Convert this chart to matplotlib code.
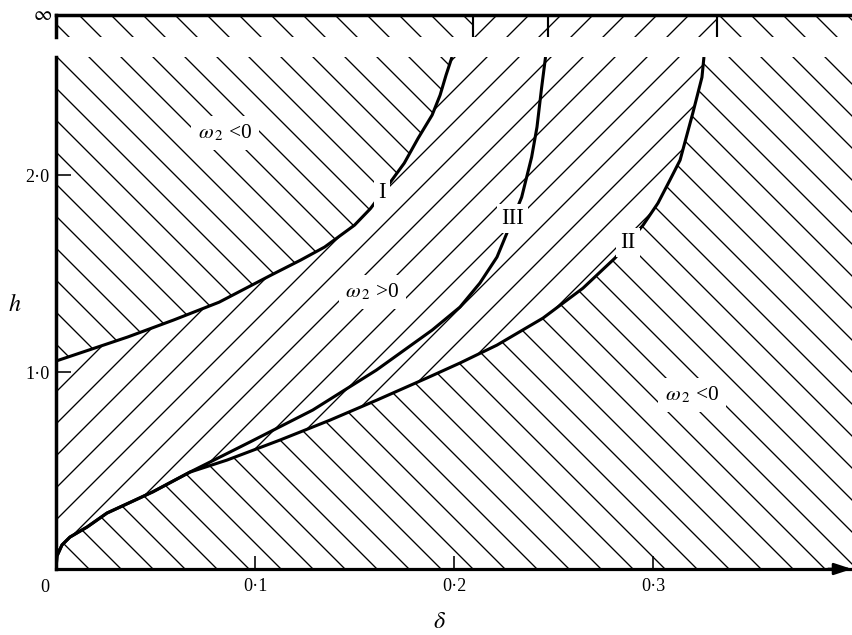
import matplotlib
matplotlib.use("Agg")
import matplotlib.pyplot as plt

# ======================================
# DATA
# ======================================

# shared lower branch of curves II and III
delta_low = [0, 0.0005, 0.003, 0.007, 0.0156, 0.0256, 0.0387, 0.0487, 0.0673]
h_low = [0, 0.066, 0.122, 0.162, 0.213, 0.284, 0.345, 0.392, 0.492]

delta_I = [0, 0.036, 0.059, 0.082, 0.108, 0.123, 0.135, 0.150, 0.158,
           0.168, 0.175, 0.182, 0.189, 0.193, 0.196, 0.199]
h_I = [1.056, 1.178, 1.264, 1.355, 1.492, 1.569, 1.635, 1.746, 1.830,
       1.964, 2.061, 2.188, 2.305, 2.406, 2.508, 2.60]

delta_III = delta_low + [0.0975, 0.129, 0.161, 0.189, 0.203, 0.213, 0.2216,
                         0.2266, 0.234, 0.239, 0.2417, 0.244, 0.246]
h_III = h_low + [0.645, 0.807, 1.010, 1.213, 1.330, 1.452, 1.584,
                 1.706, 1.888, 2.091, 2.244, 2.442, 2.60]

delta_II = delta_low + [0.0859, 0.1126, 0.1377, 0.1613, 0.1864, 0.203,
                        0.2216, 0.2447, 0.2648, 0.2809, 0.295, 0.3025,
                        0.3085, 0.3136, 0.320, 0.3246, 0.3256]
h_II = h_low + [0.553, 0.655, 0.756, 0.858, 0.970, 1.046,
                1.137, 1.274, 1.426, 1.579, 1.746, 1.858,
                1.975, 2.076, 2.315, 2.497, 2.60]

# asymptotes of I, III, II at h = infinity
asymptotes = [0.2095, 0.247, 0.332]

x_ticks = [0.1, 0.2, 0.3]
x_tick_labels = ["0·1", "0·2", "0·3"]
y_ticks = [1.0, 2.0]
y_tick_labels = ["1·0", "2·0"]

x_max = 0.4
h_max = 2.6

# ======================================
# STYLE
# ======================================

DPI = 192
plt.rcParams["font.family"] = ["Liberation Serif", "DejaVu Serif"]
plt.rcParams["mathtext.fontset"] = "stix"
plt.rcParams["hatch.linewidth"] = 0.5
plt.rcParams["hatch.color"] = "black"

fig = plt.figure(figsize=(852 / DPI, 635 / DPI), dpi=DPI)

ax = fig.add_axes([56 / 852, 66 / 635, 796 / 852, 512 / 635])
band = fig.add_axes([56 / 852, 598 / 635, 796 / 852, 22 / 635])

NEG = "\\\\"   # omega_2 < 0
POS = "//"     # omega_2 > 0

# ======================================
# HATCHED REGIONS
# ======================================

hatch_kw = dict(facecolor="none", edgecolor="black", linewidth=0)

# omega_2 < 0 above curve I
ax.fill([0] + delta_I, [h_max] + h_I, hatch=NEG, **hatch_kw)

# omega_2 > 0 between I and II
ax.fill(delta_I + delta_II[::-1], h_I + h_II[::-1], hatch=POS, **hatch_kw)

# omega_2 < 0 below curve II
ax.fill(delta_II + [x_max, x_max], h_II + [h_max, 0], hatch=NEG, **hatch_kw)

# ======================================
# CURVES
# ======================================

for d, h in [(delta_I, h_I), (delta_III, h_III), (delta_II, h_II)]:
    ax.plot(d, h, color="black", lw=1.15, solid_capstyle="butt",
            solid_joinstyle="round")

# ======================================
# LABELS
# ======================================

box = dict(facecolor="white", edgecolor="none", pad=1.5)
roman_kw = dict(fontsize=8.5, ha="center", va="center", bbox=box)

ax.text(0.1638, 1.914, "I", **roman_kw)
ax.text(0.2296, 1.782, "III", **roman_kw)
ax.text(0.2874, 1.660, "II", **roman_kw)

omega_kw = dict(fontsize=8, ha="center", va="center",
                bbox=dict(facecolor="white", edgecolor="none", pad=2.5))
ax.text(0.085, 2.213, r"$\omega_{\,2}$ <0", **omega_kw)
ax.text(0.159, 1.406, r"$\omega_{\,2}$ >0", **omega_kw)
ax.text(0.3196, 0.883, r"$\omega_{\,2}$ <0", **omega_kw)

# ======================================
# AXES
# ======================================

ax.set_xlim(0, x_max)
ax.set_ylim(0, h_max)

for side in ["top", "right"]:
    ax.spines[side].set_visible(False)
ax.spines["left"].set_linewidth(1.3)
ax.spines["bottom"].set_linewidth(1.2)

ax.set_xticks(x_ticks)
ax.set_xticklabels(x_tick_labels)
ax.set_yticks(y_ticks)
ax.set_yticklabels(y_tick_labels)

ax.tick_params(axis="x", direction="in", length=5, width=0.6,
               labelsize=6.8, pad=3.5)
ax.tick_params(axis="y", direction="in", length=5.5, width=0.6,
               labelsize=6.8, pad=2.5)

ax.annotate(
    "0", xy=(0, 0), xytext=(-11, -18),
    textcoords="offset pixels", ha="center", va="center", fontsize=6.8
)

ax.annotate(
    "", xy=(1.0, 0), xytext=(0.97, 0), xycoords="axes fraction",
    arrowprops=dict(arrowstyle="-|>,head_length=0.55,head_width=0.18",
                    color="black", lw=1.0, shrinkA=0, shrinkB=0),
    annotation_clip=False
)

fig.text(15 / 852, 1 - 305 / 635, r"$h$", fontsize=9, ha="center", va="center")
fig.text(440 / 852, 1 - 622 / 635, r"$\delta$", fontsize=9,
         ha="center", va="center")

# ======================================
# INFINITY BAND
# ======================================

band.set_xlim(0, x_max)
band.set_ylim(0, 1)

band.fill_between([0, asymptotes[0]], 0, 1, hatch=NEG, **hatch_kw)
band.fill_between([asymptotes[0], asymptotes[2]], 0, 1, hatch=POS, **hatch_kw)
band.fill_between([asymptotes[2], x_max], 0, 1, hatch=NEG, **hatch_kw)
band.vlines(asymptotes, 0, 1, color="black", lw=0.8)

for side in ["bottom", "right"]:
    band.spines[side].set_visible(False)
band.spines["top"].set_linewidth(1.3)
band.spines["left"].set_linewidth(1.3)
band.set_xticks([])
band.set_yticks([])

fig.text(43 / 852, 1 - 16 / 635, r"$\infty$", fontsize=7.5,
         ha="center", va="center")

fig.savefig("out.png", dpi=DPI)
